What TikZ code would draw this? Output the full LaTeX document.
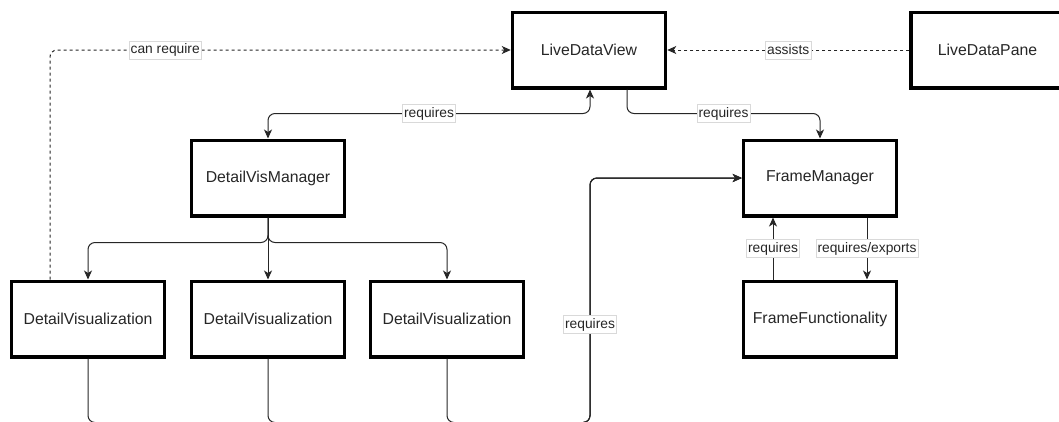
\documentclass[tikz,border=0pt]{standalone}
\usepackage{fontspec}
\setmainfont{Liberation Sans}
\usetikzlibrary{arrows.meta,calc}
\begin{document}
\begin{tikzpicture}[x=1pt,y=-1pt,
  box/.style={draw=black, line width=3.5pt, fill=white, minimum width=153pt, minimum height=75.5pt, inner sep=0pt, font=\fontsize{15.8}{18}\selectfont, text=black!85},
  conn/.style={draw=black!85, line width=1pt, rounded corners=7pt},
  tip/.style={-{Stealth[length=9pt,width=8pt,inset=2.5pt]}},
  dashedconn/.style={conn, dash pattern=on 3pt off 3pt},
  lbl/.style={fill=white, draw=black!15, line width=0.6pt, inner xsep=1.5pt, inner ysep=0pt, minimum height=18pt, font=\fontsize{13.8}{16}\selectfont, text=black!85, sharp corners, solid}
]
\useasboundingbox (0,0) rectangle (1059,421);

\node[box] (ldv) at (589,50) {LiveDataView};
\node[box] (ldp) at (987.5,50) {LiveDataPane};
\node[box] (dvm) at (268,178) {DetailVisManager};
\node[box] (fm) at (820,178) {FrameManager};
\node[box] (dv1) at (88,319) {DetailVisualization};
\node[box] (dv2) at (268,319) {DetailVisualization};
\node[box] (dv3) at (447,319) {DetailVisualization};
\node[box] (ff) at (820,319) {FrameFunctionality};

\draw[conn, {Stealth[length=9pt,width=8pt,inset=2.5pt]}-{Stealth[length=9pt,width=8pt,inset=2.5pt]}]
  ([xshift=1pt]ldv.south) -- ++(0,24) -| node[lbl,pos=0.25]{requires} (dvm.north);
\draw[conn,tip] ([xshift=38pt]ldv.south) -- ++(0,24) -| node[lbl,pos=0.25]{requires} (fm.north);
\draw[dashedconn,tip] (ldp.west) -- node[lbl]{assists} (ldv.east);
\draw[dashedconn,tip] ([xshift=-38pt]dv1.north) |- node[lbl,pos=0.625]{can require} (ldv.west);

\draw[conn,tip] (dvm.south) -- ++(0,25) -| (dv1.north);
\draw[conn,tip] (dvm.south) -- (dv2.north);
\draw[conn,tip] (dvm.south) -- ++(0,25) -| (dv3.north);

\coordinate (bus) at (590,422.5);
\draw[conn,tip] (dv1.south) |- (bus) |- (fm.west);
\draw[conn,tip] (dv2.south) |- (bus) |- (fm.west);
\draw[conn,tip] (dv3.south) |- (bus) |- node[lbl,pos=0.2]{requires} (fm.west);

\draw[conn,tip] ([xshift=-47pt]ff.north) -- node[lbl]{requires} ([xshift=-47pt]fm.south);
\draw[conn,tip] ([xshift=47pt]fm.south) -- node[lbl]{requires/exports} ([xshift=47pt]ff.north);
\end{tikzpicture}
\end{document}
